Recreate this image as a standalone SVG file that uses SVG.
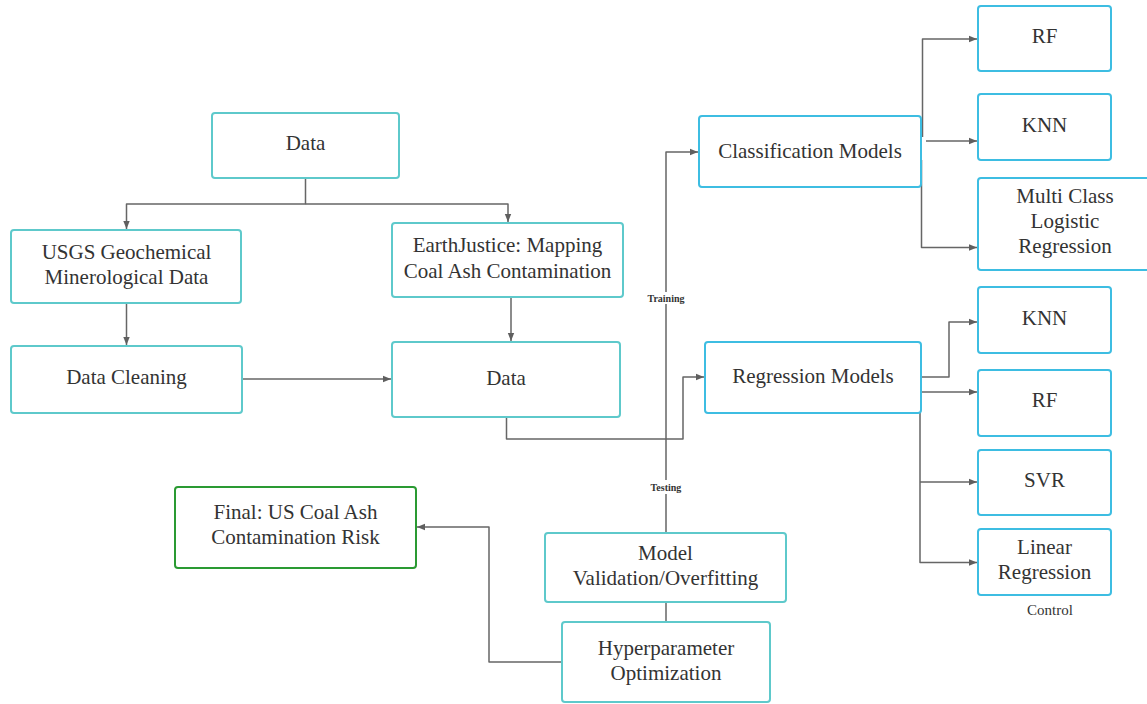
<svg xmlns="http://www.w3.org/2000/svg" width="1147" height="704" viewBox="0 0 1147 704">
  <defs>
    <marker id="arr" viewBox="0 0 10 10" refX="10" refY="5" markerWidth="8" markerHeight="8" markerUnits="userSpaceOnUse" orient="auto">
      <path d="M0,1 L10,5 L0,9 z" fill="#5f5f5f"/>
    </marker>
    <style>
      .box { fill: #ffffff; stroke-width: 2; }
      .teal { stroke: #5ec9cb; }
      .blue { stroke: #3dbde2; }
      .green { stroke: #2a9a32; }
      text { font-family: 'Liberation Serif', 'Times New Roman', Times, serif; fill: #333333; text-anchor: middle; }
      .t { font-size: 21px; }
      .lbl { font-size: 10px; font-weight: bold; }
      .ctl { font-size: 15px; }
      .c { fill: none; stroke: #666666; stroke-width: 1.5; stroke-linejoin: round; }
      .ca { fill: none; stroke: #666666; stroke-width: 1.5; stroke-linejoin: round; marker-end: url(#arr); }
    </style>
  </defs>
  <rect width="1147" height="704" fill="#ffffff"/>

  <!-- connectors -->
  <g id="connectors">
    <path class="ca" d="M305.5,179 V204 H126.5 V229"/>
    <path class="ca" d="M305.5,204 H508 V222"/>
    <path class="ca" d="M126.5,304 V345"/>
    <path class="ca" d="M242,379 H391"/>
    <path class="ca" d="M511,298 V341"/>
    <path class="ca" d="M506.5,418 V439 H683 V377 H704"/>
    <path class="ca" d="M666,533 V152 H698"/>
    <path class="c" d="M666,603 V621"/>
    <path class="ca" d="M561,662 H489 V527 H417"/>
    <path class="ca" d="M922.5,137 V39 H977"/>
    <path class="ca" d="M926,141 H977"/>
    <path class="ca" d="M921.5,160 V247.5 H977"/>
    <path class="ca" d="M921.5,377 H949 V322 H977"/>
    <path class="ca" d="M921.5,392 H977"/>
    <path class="ca" d="M920,396 V562.5 H977"/>
    <path class="ca" d="M920,482 H977"/>
    <rect x="643" y="292" width="46" height="12" fill="#ffffff"/>
    <text class="lbl" x="666" y="302" font-size="9">Training</text>
    <rect x="645" y="480" width="42" height="14" fill="#ffffff"/>
    <text class="lbl" x="666" y="491">Testing</text>
  </g>

  <!-- nodes -->
  <g id="data-top">
    <rect class="box teal" x="212" y="113" width="187" height="65" rx="3"/>
    <text class="t" x="305.5" y="150">Data</text>
  </g>
  <g id="usgs">
    <rect class="box teal" x="11" y="230" width="230" height="73" rx="3"/>
    <text class="t" x="126.5" y="259">USGS Geochemical</text>
    <text class="t" x="126.5" y="284">Minerological Data</text>
  </g>
  <g id="data-cleaning">
    <rect class="box teal" x="11" y="346" width="231" height="67" rx="3"/>
    <text class="t" x="126.5" y="384">Data Cleaning</text>
  </g>
  <g id="earthjustice">
    <rect class="box teal" x="392" y="223" width="231" height="74" rx="3"/>
    <text class="t" x="507.5" y="252">EarthJustice: Mapping</text>
    <text class="t" x="507.5" y="278">Coal Ash Contamination</text>
  </g>
  <g id="data-mid">
    <rect class="box teal" x="392" y="342" width="228" height="75" rx="3"/>
    <text class="t" x="506" y="385">Data</text>
  </g>
  <g id="classification">
    <rect class="box blue" x="699" y="116" width="222" height="71" rx="3"/>
    <text class="t" x="810" y="158">Classification Models</text>
  </g>
  <g id="rf-class">
    <rect class="box blue" x="978" y="6" width="133" height="65" rx="3"/>
    <text class="t" x="1044.5" y="43">RF</text>
  </g>
  <g id="knn-class">
    <rect class="box blue" x="978" y="94" width="133" height="66" rx="3"/>
    <text class="t" x="1044.5" y="132">KNN</text>
  </g>
  <g id="logistic">
    <rect class="box blue" x="978" y="178" width="172" height="92" rx="3"/>
    <text class="t" x="1065" y="203">Multi Class</text>
    <text class="t" x="1065" y="228">Logistic</text>
    <text class="t" x="1065" y="253">Regression</text>
  </g>
  <g id="regression">
    <rect class="box blue" x="705" y="342" width="216" height="71" rx="3"/>
    <text class="t" x="813" y="383">Regression Models</text>
  </g>
  <g id="knn-reg">
    <rect class="box blue" x="978" y="287" width="133" height="66" rx="3"/>
    <text class="t" x="1044.5" y="325">KNN</text>
  </g>
  <g id="rf-reg">
    <rect class="box blue" x="978" y="370" width="133" height="66" rx="3"/>
    <text class="t" x="1044.5" y="407">RF</text>
  </g>
  <g id="svr">
    <rect class="box blue" x="978" y="450" width="133" height="65" rx="3"/>
    <text class="t" x="1044.5" y="487">SVR</text>
  </g>
  <g id="linear">
    <rect class="box blue" x="978" y="529" width="133" height="66" rx="3"/>
    <text class="t" x="1044.5" y="554">Linear</text>
    <text class="t" x="1044.5" y="579">Regression</text>
    <text class="ctl" x="1050" y="615">Control</text>
  </g>
  <g id="final">
    <rect class="box green" x="175" y="487" width="241" height="81" rx="3"/>
    <text class="t" x="295.5" y="519">Final: US Coal Ash</text>
    <text class="t" x="295.5" y="544">Contamination Risk</text>
  </g>
  <g id="validation">
    <rect class="box teal" x="545" y="533" width="241" height="69" rx="3"/>
    <text class="t" x="665.5" y="560">Model</text>
    <text class="t" x="665.5" y="585">Validation/Overfitting</text>
  </g>
  <g id="hyperparameter">
    <rect class="box teal" x="562" y="622" width="208" height="80" rx="3"/>
    <text class="t" x="666" y="655">Hyperparameter</text>
    <text class="t" x="666" y="680">Optimization</text>
  </g>
</svg>
